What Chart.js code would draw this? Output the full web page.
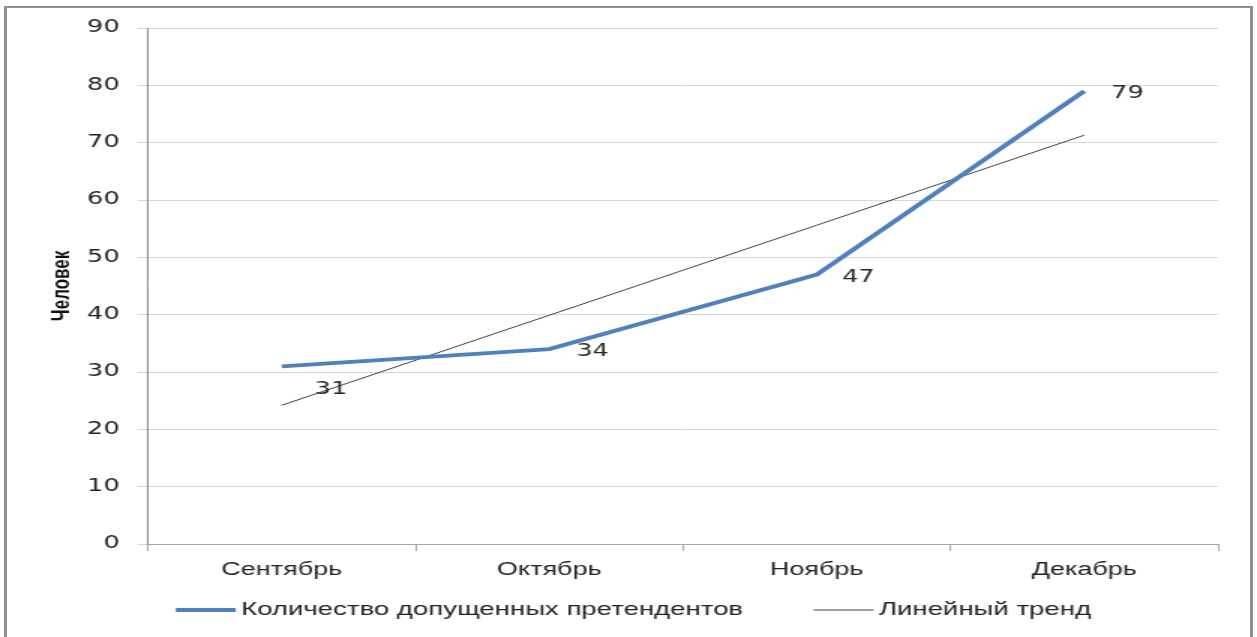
<!DOCTYPE html>
<html lang="ru">
<head>
<meta charset="utf-8">
<title>Количество допущенных претендентов</title>
<script src="https://cdn.jsdelivr.net/npm/chart.js@4.4.1/dist/chart.umd.min.js"></script>
<style>
  html, body { margin: 0; padding: 0; background: #fff; overflow: hidden; }
  /* chart is drawn narrow and stretched sideways, like the original picture */
  .stretch { position: absolute; left: 0; top: 0; width: 838px; height: 637px; transform: scaleX(1.5); transform-origin: 0 0; }
  .frame { position: absolute; left: 4px; top: 6px; width: 1243px; height: 640px; border: solid #8f8f8f; border-width: 2px 3px 0 3px; }
</style>
</head>
<body>
<div class="stretch"><canvas id="admittedChart" width="838" height="637"></canvas></div>
<div class="frame"></div>
<script>
const months = ["Сентябрь", "Октябрь", "Ноябрь", "Декабрь"];
const admitted = [31, 34, 47, 79];
const trend = [24.2, 39.9, 55.6, 71.3];
const yMin = 0;
const yMax = 90;
const yStep = 10;

// value labels next to the points of the main line
const valueLabels = {
  id: "valueLabels",
  afterDatasetsDraw(chart) {
    const ctx = chart.ctx;
    const meta = chart.getDatasetMeta(0);
    const dx = [22, 18, 17, 18];
    const dy = [23, 3, 3, 3];
    ctx.save();
    ctx.font = "17px 'DejaVu Sans'";
    ctx.fillStyle = "#262626";
    ctx.textAlign = "left";
    ctx.textBaseline = "middle";
    meta.data.forEach((pt, i) => {
      ctx.fillText(String(admitted[i]), pt.x + dx[i], pt.y + dy[i]);
    });
    ctx.restore();
  },
};

// legend row under the axis: line sample + series name, wide gap between items
const lineLegend = {
  id: "lineLegend",
  afterDraw(chart) {
    const ctx = chart.ctx;
    const y = 610;
    const sample = 40;
    const textGap = 3.5;
    const itemGap = 47;
    ctx.save();
    ctx.font = "18.4px 'Liberation Sans'";
    ctx.textBaseline = "middle";
    ctx.textAlign = "left";
    const items = chart.data.datasets.map((ds) => ({
      ds: ds,
      w: sample + textGap + ctx.measureText(ds.label).width,
    }));
    const total = items.reduce((s, it) => s + it.w, 0) + itemGap * (items.length - 1);
    let x = chart.width / 2 + 3.3 - total / 2;
    items.forEach((it) => {
      ctx.strokeStyle = it.ds.borderColor;
      ctx.lineWidth = it.ds.borderWidth;
      ctx.beginPath();
      ctx.moveTo(x, y);
      ctx.lineTo(x + sample, y);
      ctx.stroke();
      ctx.fillStyle = "#222";
      ctx.fillText(it.ds.label, x + sample + textGap, y);
      x += it.w + itemGap;
    });
    ctx.restore();
  },
};

const data = {
  labels: months,
  datasets: [
    {
      label: "Количество допущенных претендентов",
      data: admitted,
      borderColor: "#4f81bd",
      backgroundColor: "#4f81bd",
      borderWidth: 3.8,
      pointRadius: 0,
      tension: 0,
    },
    {
      label: "Линейный тренд",
      data: trend,
      borderColor: "#404040",
      backgroundColor: "#404040",
      borderWidth: 1,
      pointRadius: 0,
      tension: 0,
    },
  ],
};

const options = {
  responsive: false,
  animation: false,
  devicePixelRatio: 1,
  layout: {
    padding: { top: 28, right: 26, left: 0, bottom: 0 },
  },
  plugins: {
    tooltip: { enabled: false },
    legend: { display: false },
  },
  scales: {
    x: {
      offset: true,
      grid: { offset: true, drawOnChartArea: false, tickLength: 7, color: "#a6a6a6" },
      border: { color: "#a6a6a6" },
      ticks: {
        font: { family: "'Liberation Sans'", size: 18 },
        color: "#222",
        padding: 8,
        maxRotation: 0,
      },
      afterFit(scale) {
        scale.height = 93;
      },
    },
    y: {
      min: yMin,
      max: yMax,
      ticks: {
        stepSize: yStep,
        font: { family: "'DejaVu Sans'", size: 17 },
        color: "#222",
        padding: 12,
      },
      grid: { color: "#d6d6d6", tickLength: 7 },
      border: { color: "#8c8c8c" },
      title: {
        display: true,
        text: "Человек",
        font: { family: "'Liberation Sans'", size: 17, weight: "bold" },
        color: "#111",
        padding: { top: 31, bottom: 0 },
      },
      afterFit(scale) {
        scale.width = 98.7;
      },
    },
  },
};

const ctx = document.getElementById("admittedChart").getContext("2d");
const admittedChart = new Chart(ctx, {
  type: "line",
  data: data,
  options: options,
  plugins: [valueLabels, lineLegend],
});
</script>
</body>
</html>
